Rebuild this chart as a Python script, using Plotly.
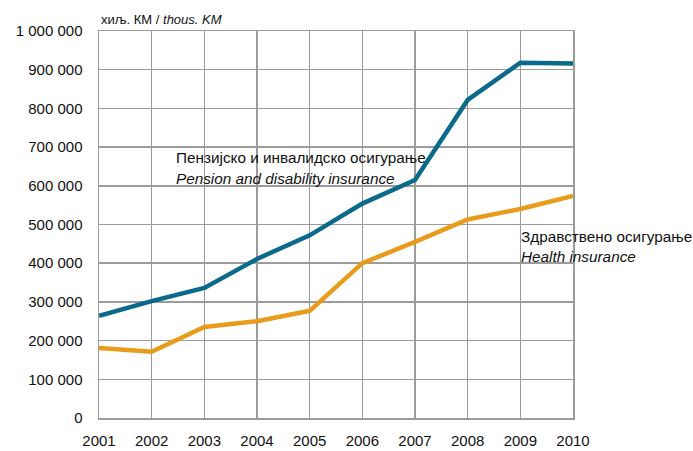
import plotly.graph_objects as go

years = [2001, 2002, 2003, 2004, 2005, 2006, 2007, 2008, 2009, 2010]
pension = [264000, 302000, 336000, 411000, 472000, 554000, 615000, 822000, 918000, 916000]
health = [181000, 171000, 235000, 250000, 277000, 400000, 455000, 513000, 540000, 574000]
y_ticks = [0, 100000, 200000, 300000, 400000, 500000, 600000, 700000, 800000, 900000, 1000000]

BLUE = "#0b6a8b"
ORANGE = "#e89c1b"
GRID = "#9b9b9b"
FONT = "Liberation Sans"

fig = go.Figure()
fig.add_trace(go.Scatter(x=years, y=pension, mode="lines",
                         line=dict(color=BLUE, width=4.5), cliponaxis=False,
                         showlegend=False, hoverinfo="skip"))
fig.add_trace(go.Scatter(x=years, y=health, mode="lines",
                         line=dict(color=ORANGE, width=4.5), cliponaxis=False,
                         showlegend=False, hoverinfo="skip"))

fig.update_layout(
    width=693, height=451,
    margin=dict(l=99, r=120, t=31, b=33),
    paper_bgcolor="white", plot_bgcolor="white",
    separators=", ",
    font=dict(family=FONT, size=14, color="#111111"),
    xaxis=dict(range=[2001, 2010], tickvals=years, showgrid=True,
               gridcolor=GRID, gridwidth=1.5, showline=True, linecolor=GRID,
               linewidth=1.5, mirror=True, zeroline=False, ticks="",
               automargin=False,
               ticklabelstandoff=8, tickfont=dict(size=15, family=FONT)),
    yaxis=dict(range=[0, 1000000], tickvals=y_ticks, tickformat=",d",
               showgrid=True, gridcolor=GRID, gridwidth=1.5, showline=True,
               linecolor=GRID, linewidth=1.5, mirror=True, zeroline=False,
               automargin=False,
               ticks="", ticklabelstandoff=12, tickfont=dict(size=15, family=FONT)),
    annotations=[
        dict(text="хиљ. КМ / <i>thous. KM</i>", xref="paper", yref="paper",
             x=0, y=1, xanchor="left", yanchor="bottom", yshift=2,
             showarrow=False, font=dict(size=13, family=FONT)),
        dict(text="Пензијско и инвалидско осигурање", x=2002.43, y=674000,
             xanchor="left", yanchor="middle", showarrow=False,
             font=dict(size=15.3, family=FONT)),
        dict(text="<i>Pension and disability insurance</i>", x=2002.43, y=620000,
             xanchor="left", yanchor="middle", showarrow=False,
             font=dict(size=15.3, family=FONT)),
        dict(text="Здравствено осигурање", x=2008.97, y=470000,
             xanchor="left", yanchor="middle", showarrow=False,
             font=dict(size=15.3, family=FONT)),
        dict(text="<i>Health insurance</i>", x=2008.97, y=418000,
             xanchor="left", yanchor="middle", showarrow=False,
             font=dict(size=15.3, family=FONT)),
    ],
)

fig.write_html(
    "out.html",
    config={"displayModeBar": False, "staticPlot": True},
    post_script="document.body.style.margin='0';"
                "document.documentElement.style.overflow='hidden';"
                "document.body.style.overflow='hidden';",
)
